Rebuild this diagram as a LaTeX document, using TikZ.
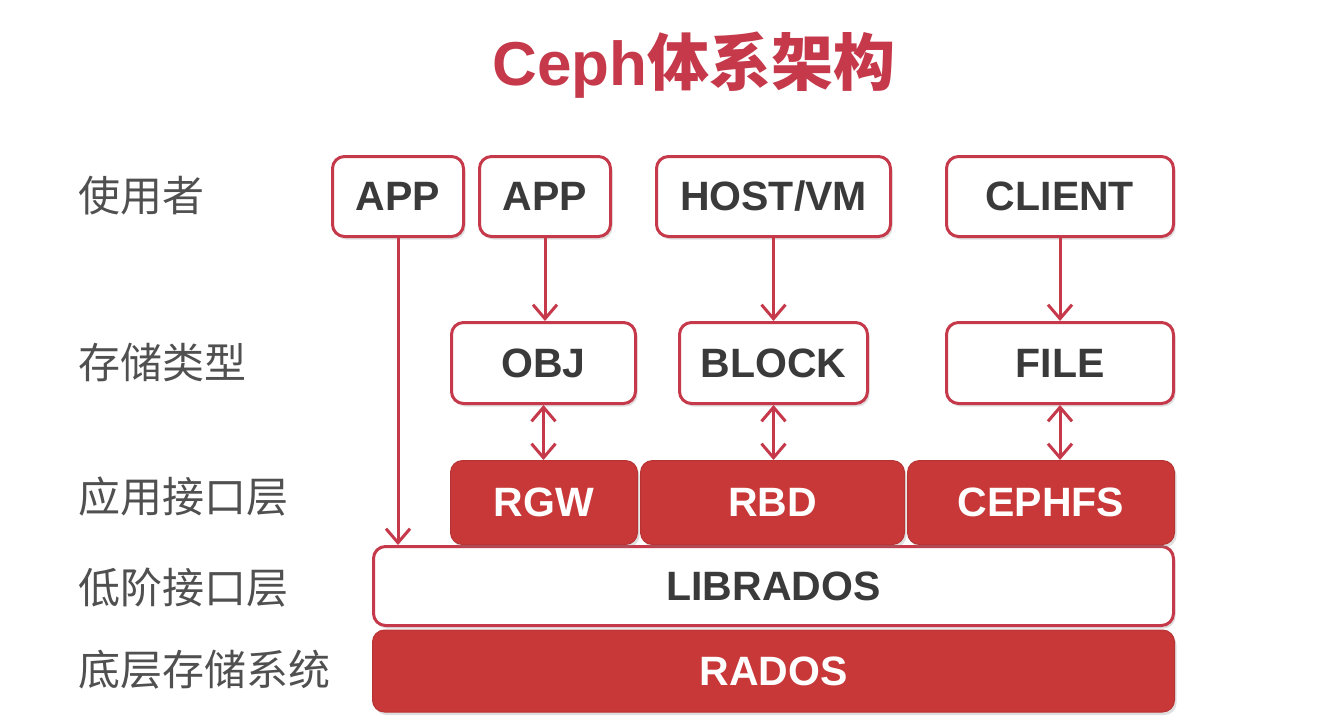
\documentclass[tikz,border=0pt]{standalone}
\usepackage{fontspec}
\setmainfont{Liberation Sans}
\newfontfamily\cjk{Noto Sans CJK SC}
\usetikzlibrary{arrows.meta,shadows}
\definecolor{cred}{HTML}{C5394A}
\definecolor{cfill}{HTML}{C83838}
\definecolor{ctext}{HTML}{3A3A3A}
\definecolor{clabel}{HTML}{505050}
\tikzset{
  boxbase/.style={rounded corners=12pt, inner sep=0pt, line width=3pt,
    font=\bfseries\fontsize{41}{45}\selectfont,
    drop shadow={shadow xshift=2pt, shadow yshift=-3pt, opacity=0.25}},
  wbox/.style={boxbase, draw=cred, fill=white, text=ctext},
  rbox/.style={boxbase, draw=cfill!92!black, line width=1pt, fill=cfill, text=white},
  lab/.style={anchor=west, text=clabel, font=\cjk\fontsize{42}{46}\selectfont, inner sep=0pt},
  tip/.style={Straight Barb[length=14pt,width=24pt,line width=3pt]},
  arr/.style={draw=cred, line width=3pt, -{Straight Barb[length=14pt,width=24pt,line width=3pt]}},
  darr/.style={draw=cred, line width=3pt, {Straight Barb[length=14pt,width=24pt,line width=3pt]}-{Straight Barb[length=14pt,width=24pt,line width=3pt]}}
}
\begin{document}
\begin{tikzpicture}[x=1pt,y=-1pt]
\useasboundingbox (0,0) rectangle (1344,724);
\fill[white] (0,0) rectangle (1344,724);
\node[text=cred, font=\bfseries\fontsize{62}{68}\selectfont] (title) at (694,65) {Ceph{\cjk 体系架构}};
% left labels
\node[lab] (l1) at (78,196) {使用者};
\node[lab] (l2) at (78,362) {存储类型};
\node[lab] (l3) at (78,497) {应用接口层};
\node[lab] (l4) at (78,588) {低阶接口层};
\node[lab] (l5) at (78,670) {底层存储系统};
% users
\node[wbox, minimum width=131pt, minimum height=80pt] (app1) at (398,196.5) {APP};
\node[wbox, minimum width=131pt, minimum height=80pt] (app2) at (545,196.5) {APP};
\node[wbox, minimum width=234pt, minimum height=80pt] (host) at (773.5,196.5) {HOST/VM};
\node[wbox, minimum width=227pt, minimum height=80pt] (client) at (1060,196.5) {CLIENT};
% storage types
\node[wbox, minimum width=184pt, minimum height=81pt] (obj) at (543.5,363) {OBJ};
\node[wbox, minimum width=188pt, minimum height=81pt] (block) at (773.5,363) {BLOCK};
\node[wbox, minimum width=227pt, minimum height=81pt] (file) at (1060,363) {FILE};
% lower layers
\node[wbox, minimum width=800pt, minimum height=79pt] (librados) at (773.5,586) {LIBRADOS};
\node[rbox, minimum width=802pt, minimum height=82pt] (rados) at (773.5,671) {RADOS};
\node[rbox, minimum width=187pt, minimum height=84pt] (rgw) at (544,502.5) {RGW};
\node[rbox, minimum width=264pt, minimum height=84pt] (rbd) at (772.5,502.5) {RBD};
\node[rbox, minimum width=267pt, minimum height=84pt] (cephfs) at (1041,502.5) {CEPHFS};
% connectors
\draw[arr] (app1.south) -- (app1.south |- librados.north);
\draw[arr] (app2.south) -- (app2.south |- obj.north);
\draw[arr] (host.south) -- (host.south |- block.north);
\draw[arr] (client.south) -- (client.south |- file.north);
\draw[darr] (obj.south) -- (obj.south |- rgw.north);
\draw[darr] (block.south) -- (block.south |- rbd.north);
\draw[darr] (file.south) -- (file.south |- cephfs.north);
\end{tikzpicture}
\end{document}
